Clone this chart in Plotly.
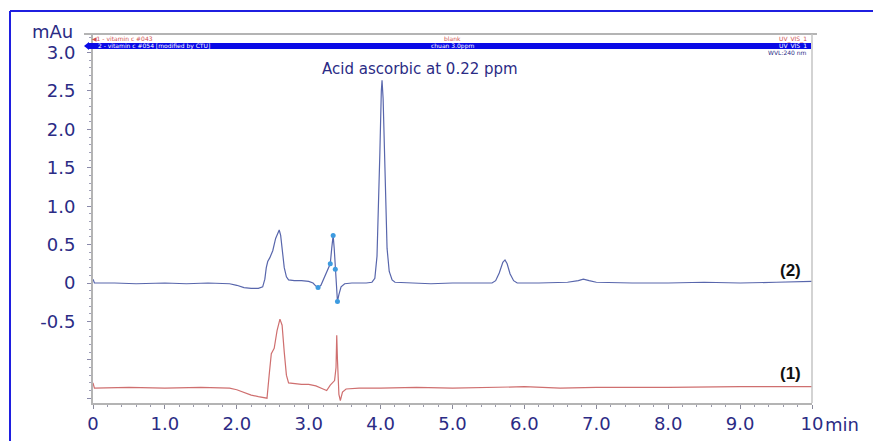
import plotly.graph_objects as go

# ---------------- data ----------------
t_blue = [0.0, 0.02, 0.3, 0.6, 1.0, 1.3, 1.6, 1.9, 2.0, 2.1, 2.2, 2.3, 2.36, 2.39, 2.41, 2.43,
          2.46, 2.50, 2.54, 2.57, 2.59, 2.61, 2.63, 2.66, 2.69, 2.72, 2.8, 2.9, 3.0, 3.06,
          3.10, 3.13, 3.17, 3.22, 3.27, 3.30, 3.32, 3.34, 3.355, 3.37, 3.385, 3.40, 3.42,
          3.45, 3.5, 3.6, 3.7, 3.8, 3.88, 3.92, 3.95, 3.97, 3.99, 4.01, 4.02, 4.035, 4.05,
          4.07, 4.09, 4.12, 4.16, 4.2, 4.4, 4.7, 5.0, 5.3, 5.55, 5.6, 5.65, 5.7, 5.73, 5.76,
          5.8, 5.85, 5.9, 6.2, 6.6, 6.75, 6.82, 6.9, 7.0, 7.5, 8.0, 8.5, 9.0, 9.5, 10.0]
v_blue = [0.05, 0.0, 0.0, -0.01, 0.0, -0.01, 0.0, -0.01, -0.03, -0.06, -0.07, -0.07, -0.05, 0.05, 0.2, 0.28,
          0.33, 0.42, 0.58, 0.66, 0.69, 0.62, 0.45, 0.2, 0.08, 0.04, 0.03, 0.03, 0.02, 0.0,
          -0.04, -0.06, -0.03, 0.08, 0.18, 0.25, 0.45, 0.62, 0.45, 0.18, -0.05, -0.24, -0.15,
          -0.05, -0.01, 0.0, 0.0, 0.0, 0.01, 0.06, 0.35, 0.9, 1.7, 2.5, 2.64, 2.4, 1.8,
          1.0, 0.45, 0.15, 0.04, 0.01, 0.0, -0.01, 0.0, 0.0, 0.0, 0.03, 0.13, 0.27, 0.30, 0.25,
          0.12, 0.03, 0.0, 0.0, 0.01, 0.03, 0.05, 0.03, 0.01, 0.0, 0.0, 0.01, 0.0, 0.01, 0.02]

t_marks = [3.13, 3.30, 3.34, 3.37, 3.40]
v_marks = [-0.06, 0.25, 0.62, 0.18, -0.24]

t_red = [0.0, 0.02, 0.5, 1.0, 1.5, 1.9, 2.0, 2.1, 2.2, 2.3, 2.42, 2.45, 2.48, 2.52, 2.56, 2.6,
         2.63, 2.66, 2.69, 2.72, 2.8, 2.9, 3.0, 3.1, 3.2, 3.25, 3.3, 3.36, 3.38, 3.39, 3.40,
         3.42, 3.44, 3.47, 3.52, 3.7, 4.0, 4.5, 5.0, 5.5, 6.0, 6.5, 7.0, 8.0, 9.0, 10.0]
v_red = [-1.30, -1.37, -1.36, -1.37, -1.36, -1.37, -1.39, -1.43, -1.46, -1.48, -1.50, -1.2, -0.92, -0.85, -0.62, -0.47,
         -0.55, -0.9, -1.2, -1.3, -1.31, -1.32, -1.32, -1.34, -1.38, -1.40, -1.33, -1.27, -1.1, -0.68, -1.0,
         -1.45, -1.53, -1.42, -1.38, -1.37, -1.37, -1.36, -1.37, -1.36, -1.35, -1.37, -1.36, -1.36, -1.35, -1.35]

x_tick_vals = [0, 1, 2, 3, 4, 5, 6, 7, 8, 9, 10]
x_tick_text = ["0", "1.0", "2.0", "3.0", "4.0", "5.0", "6.0", "7.0", "8.0", "9.0", "10"]
y_tick_vals = [3.0, 2.5, 2.0, 1.5, 1.0, 0.5, 0.0, -0.5, -1.0, -1.5]
y_tick_text = ["3.0", "2.5", "2.0", "1.5", "1.0", "0.5", "0", "-0.5", "", ""]

# ---------------- layout helpers ----------------
W, H = 873, 441
L, R, T, B = 93, 812, 34, 403


def px(x):
    return (x - L) / (R - L)


def py(y):
    return (B - y) / (B - T)


NAVY = "#2b2b85"
FONT = "DejaVu Sans"

fig = go.Figure()
fig.add_trace(go.Scatter(x=t_red, y=v_red, mode="lines",
                         line=dict(color="#cf6f6f", width=1.2), hoverinfo="skip"))
fig.add_trace(go.Scatter(x=t_blue, y=v_blue, mode="lines",
                         line=dict(color="#5866ac", width=1.2), hoverinfo="skip"))
fig.add_trace(go.Scatter(x=t_marks, y=v_marks, mode="markers",
                         marker=dict(color="#3d9be0", size=5), hoverinfo="skip"))

fig.update_layout(
    width=W, height=H,
    margin=dict(l=L, r=W - R, t=T, b=H - B, autoexpand=False),
    paper_bgcolor="white", plot_bgcolor="white",
    showlegend=False,
    font=dict(family=FONT, color=NAVY),
)
fig.update_xaxes(range=[0, 10], tickvals=x_tick_vals, ticktext=x_tick_text, automargin=False,
                 showgrid=False, zeroline=False, showline=True, linecolor="#b4b4b4",
                 linewidth=2, mirror=False, ticks="outside", ticklen=4, tickcolor="#8a8a9a",
                 tickfont=dict(family=FONT, size=18, color=NAVY), ticklabelstandoff=-1,
                 minor=dict(ticks="outside", ticklen=2, dtick=0.2, tickcolor="#9a9aaa"))
fig.update_yaxes(range=[-1.5625, 3.242], tickvals=y_tick_vals, ticktext=y_tick_text, automargin=False,
                 showgrid=False, zeroline=False, showline=True, linecolor="#b4b4b4",
                 linewidth=2, ticks="outside", ticklen=4, tickcolor="#8a8aaa",
                 tickfont=dict(family=FONT, size=18, color=NAVY), ticklabelstandoff=8,
                 minor=dict(ticks="outside", ticklen=2, dtick=0.1, tickcolor="#a0a0b8"))

shapes = []
# outer blue border (top and left)
shapes.append(dict(type="line", xref="paper", yref="paper", x0=px(10), x1=px(873), y0=py(11), y1=py(11),
                   line=dict(color="#1f1fe0", width=2)))
shapes.append(dict(type="line", xref="paper", yref="paper", x0=px(10), x1=px(10), y0=py(11), y1=py(441),
                   line=dict(color="#1f1fe0", width=2)))
# plot frame (top and right, gray)
shapes.append(dict(type="line", xref="paper", yref="paper", x0=px(84), x1=px(817), y0=py(34), y1=py(34),
                   line=dict(color="#b4b4b4", width=2)))
shapes.append(dict(type="line", xref="paper", yref="paper", x0=px(812), x1=px(812), y0=py(34), y1=py(403),
                   line=dict(color="#c4c4c4", width=1.5)))
# blue selected-trace bar
shapes.append(dict(type="rect", xref="paper", yref="paper", x0=px(88), x1=px(811), y0=py(49), y1=py(43),
                   fillcolor="#0a0ae6", line=dict(width=0)))
shapes.append(dict(type="path", xref="paper", yref="paper",
                   path=f"M {px(84)} {py(46)} L {px(89)} {py(42)} L {px(89)} {py(50)} Z",
                   fillcolor="#0a0ae6", line=dict(width=0)))
fig.update_layout(shapes=shapes)

ann = []


def add_text(x, y, text, size, color, xanchor="center", bold=False, family=FONT):
    ann.append(dict(xref="paper", yref="paper", x=px(x), y=py(y), text=f"<b>{text}</b>" if bold else text,
                    showarrow=False, xanchor=xanchor, yanchor="middle",
                    font=dict(family=family, size=size, color=color)))


add_text(52, 32, "mAu", 18, NAVY)
add_text(823, 424, "min", 18, NAVY, xanchor="left")
add_text(420, 69, "Acid ascorbic at 0.22 ppm", 15, NAVY)
add_text(790, 270, "(2)", 17, "#111111", bold=True, family="Liberation Sans Narrow, Liberation Sans")
add_text(790, 373, "(1)", 17, "#111111", bold=True, family="Liberation Sans Narrow, Liberation Sans")
# header legend lines (tiny)
add_text(90, 39, "◀1 - vitamin c #043", 6, "#d05050", xanchor="left")
add_text(96, 46, "2 - vitamin c #054 [modified by CTU]", 6, "white", xanchor="left")
add_text(452, 39, "blank", 6, "#d05050")
add_text(452, 46, "chuan 3.0ppm", 6, "white")
add_text(809, 39, "UV_VIS_1", 6, "#d05050", xanchor="right")
add_text(809, 46, "UV_VIS_1", 6, "white", xanchor="right")
add_text(809, 53, "WVL:240 nm", 6, NAVY, xanchor="right")
fig.update_layout(annotations=ann)

fig.write_html("out.html")
